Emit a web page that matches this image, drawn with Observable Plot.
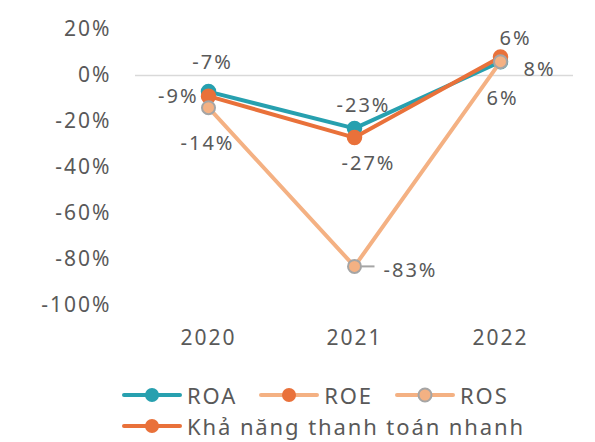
<!DOCTYPE html>
<html>
<head>
<meta charset="utf-8">
<script src="https://cdn.jsdelivr.net/npm/d3@7"></script>
<script src="https://cdn.jsdelivr.net/npm/@observablehq/plot@0.6"></script>
<style>
  body { margin: 0; background: #fff; font-family: "Noto Sans", sans-serif; }
  #wrap { position: relative; width: 595px; height: 442px; }
  svg text { letter-spacing: 2px; }
  #legend { position: absolute; left: 122px; top: 379px; color: #595959; font-size: 22px; letter-spacing: 1.9px; }
  .row { display: flex; align-items: center; height: 31px; }
  .item { display: flex; align-items: center; margin-right: 22px; }
  .item svg { margin-right: 5px; }
</style>
</head>
<body>
<div id="wrap"></div>
<script>
const years = ["2020", "2021", "2022"];
const roa = [-7, -23, 6];
const roe = [-9, -27, 8];
const ros = [-14, -83, 6];
const yTicks = [20, 0, -20, -40, -60, -80, -100];
const seriesNames = ["ROA", "ROE", "ROS", "Khả năng thanh toán nhanh"];

const mk = (name, vals) => years.map((y, i) => ({series: name, year: y, value: vals[i]}));
const dRoa = mk("ROA", roa), dRoe = mk("ROE", roe), dRos = mk("ROS", ros);

const cTeal = "#27a0af", cOrange = "#e9713a", cPeach = "#f4b183", cGray = "#a5a5a5", cText = "#595959";

// per-point label offsets (layout only)
const off = {
  "ROA-2020": [4, -29, "middle"], "ROA-2021": [9, -23, "middle"], "ROA-2022": [15, -23, "middle"],
  "ROE-2020": [-10, 0, "end"], "ROE-2021": [14, 26, "middle"], "ROE-2022": [23, 12, "start"],
  "ROS-2020": [-1, 36, "middle"], "ROS-2021": [29, 4, "start"], "ROS-2022": [2, 37, "middle"]
};
const labelMarks = (data) => data.map(d => {
  const o = off[d.series + "-" + d.year];
  return Plot.text([d], {
    x: "year", y: "value", text: d => d.value + "%",
    dx: o[0], dy: o[1], textAnchor: o[2], lineAnchor: "middle", fill: cText, fontSize: 20
  });
});

const leader = {draw(ctx) { ctx.moveTo(7, 0); ctx.lineTo(20, 0); }};

const plot = Plot.plot({
  width: 595, height: 372,
  marginTop: 29, marginBottom: 67, marginLeft: 135, marginRight: 22,
  style: {fontFamily: "Noto Sans, sans-serif", color: cText, fontSize: "21px", background: "#fff"},
  x: {type: "point", domain: years, padding: 0.5, label: null},
  y: {domain: [-100, 20], label: null},
  marks: [
    Plot.ruleY([0], {stroke: "#d9d9d9", strokeWidth: 1.5}),
    Plot.axisY({ticks: yTicks, tickFormat: d => d + "%", tickSize: 0, tickPadding: 24, fontSize: 21, fill: cText, label: null}),
    Plot.axisX({tickSize: 0, tickPadding: 25, fontSize: 21, fill: cText, label: null}),
    Plot.line(dRoa, {x: "year", y: "value", stroke: cTeal, strokeWidth: 4}),
    Plot.dot(dRoa, {x: "year", y: "value", r: 7, fill: cTeal, stroke: cTeal}),
    Plot.line(dRoe, {x: "year", y: "value", stroke: cOrange, strokeWidth: 4}),
    Plot.dot(dRoe, {x: "year", y: "value", r: 7, fill: cOrange, stroke: cOrange}),
    Plot.line(dRos, {x: "year", y: "value", stroke: cPeach, strokeWidth: 4}),
    Plot.dot(dRos, {x: "year", y: "value", r: 6.5, fill: cPeach, stroke: cGray, strokeWidth: 2}),
    Plot.dot(dRos.filter(d => d.year === "2021"), {x: "year", y: "value", symbol: leader, r: 5, stroke: cGray, strokeWidth: 2, fill: "none"}),
    ...labelMarks(dRoa), ...labelMarks(dRoe), ...labelMarks(dRos)
  ]
});
document.getElementById("wrap").appendChild(plot);

// legend
const sw = (line, fill, stroke) =>
  `<svg width="60" height="18"><line x1="2" y1="9" x2="58" y2="9" stroke="${line}" stroke-width="4" stroke-linecap="round"/>` +
  `<circle cx="30" cy="9" r="${stroke ? 6.5 : 7}" fill="${fill}" stroke="${stroke || fill}" stroke-width="${stroke ? 2 : 0}"/></svg>`;
const items = [
  [seriesNames[0], sw(cTeal, cTeal)],
  [seriesNames[1], sw(cPeach, cOrange)],
  [seriesNames[2], sw(cPeach, cPeach, cGray)],
  [seriesNames[3], sw(cOrange, cOrange)]
];
const leg = document.createElement("div");
leg.id = "legend";
leg.innerHTML =
  `<div class="row">` + items.slice(0, 3).map(([n, s]) => `<div class="item">${s}<span>${n}</span></div>`).join("") + `</div>` +
  `<div class="row">` + items.slice(3).map(([n, s]) => `<div class="item">${s}<span>${n}</span></div>`).join("") + `</div>`;
document.getElementById("wrap").appendChild(leg);
</script>
</body>
</html>
